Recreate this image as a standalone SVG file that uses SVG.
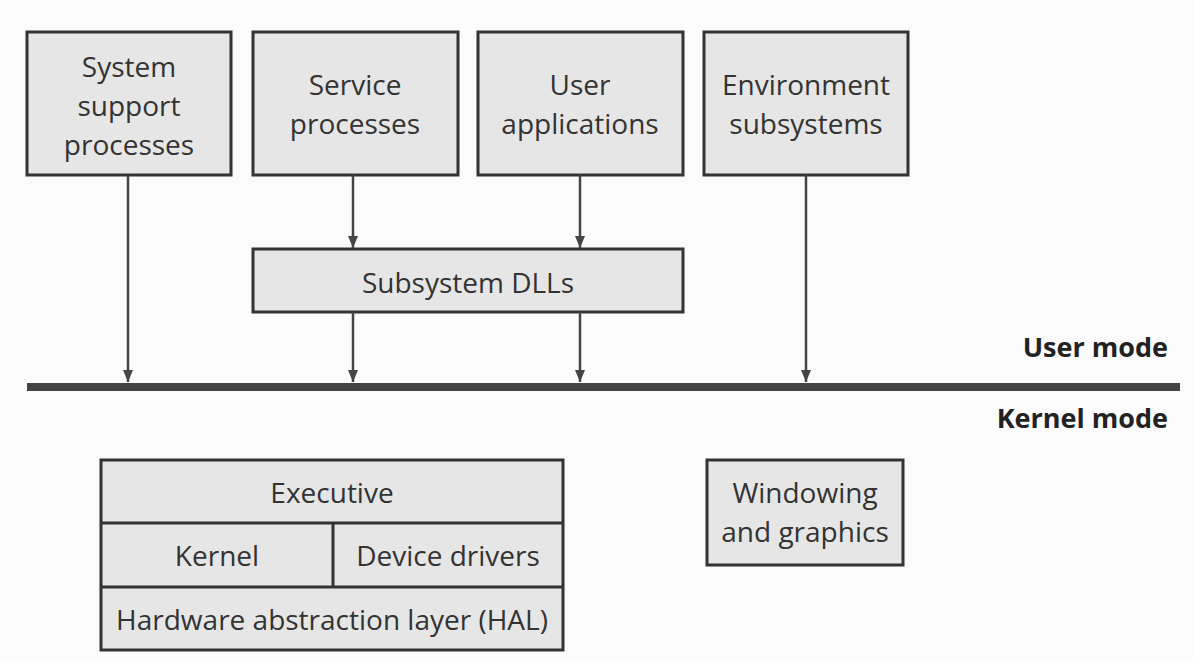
<svg xmlns="http://www.w3.org/2000/svg" width="1193" height="661" viewBox="0 0 1193 661">
<style>
.box{fill:#e6e6e6;stroke:#333;stroke-width:3}
.t{font-family:"Open Sans","Noto Sans","Liberation Sans",sans-serif;font-size:28px;fill:#333;text-anchor:middle}
.b{font-family:"Open Sans","Noto Sans","Liberation Sans",sans-serif;font-size:27px;font-weight:bold;fill:#222;text-anchor:end}
.c{stroke:#444;stroke-width:2.5;fill:none}
.d{stroke:#333;stroke-width:3}
</style>
<defs>
<marker id="ah" viewBox="0 0 12 10" refX="12" refY="5" markerWidth="12" markerHeight="10" markerUnits="userSpaceOnUse" orient="auto">
<path d="M0,0 L12,5 L0,10 Z" fill="#444"/>
</marker>
</defs>
<rect width="1193" height="661" fill="#fbfbfb"/>
<g id="sys">
<rect class="box" x="27" y="32" width="204" height="143"/>
<text class="t" x="129" y="77">System</text>
<text class="t" x="129" y="116">support</text>
<text class="t" x="129" y="155">processes</text>
</g>
<g id="svc">
<rect class="box" x="253" y="32" width="205" height="143"/>
<text class="t" x="355" y="95">Service</text>
<text class="t" x="355" y="134">processes</text>
</g>
<g id="usr">
<rect class="box" x="478" y="32" width="205" height="143"/>
<text class="t" x="580" y="95">User</text>
<text class="t" x="580" y="134">applications</text>
</g>
<g id="env">
<rect class="box" x="704" y="32" width="204" height="143"/>
<text class="t" x="806" y="95">Environment</text>
<text class="t" x="806" y="134">subsystems</text>
</g>
<g id="dll">
<rect class="box" x="253" y="249" width="430" height="63"/>
<text class="t" x="468" y="293">Subsystem DLLs</text>
</g>
<g id="modes">
<rect x="27" y="383" width="1153" height="8" fill="#444"/>
<text class="b" x="1168" y="357">User mode</text>
<text class="b" x="1168" y="428">Kernel mode</text>
</g>
<g id="exec">
<rect class="box" x="101" y="460" width="462" height="190"/>
<line class="d" x1="101" y1="523" x2="563" y2="523"/>
<line class="d" x1="101" y1="587" x2="563" y2="587"/>
<line class="d" x1="333" y1="523" x2="333" y2="587"/>
<text class="t" x="332" y="503">Executive</text>
<text class="t" x="217" y="566">Kernel</text>
<text class="t" x="448" y="566">Device drivers</text>
<text class="t" x="332" y="630">Hardware abstraction layer (HAL)</text>
</g>
<g id="win">
<rect class="box" x="707" y="460" width="196" height="105"/>
<text class="t" x="805" y="503">Windowing</text>
<text class="t" x="805" y="542">and graphics</text>
</g>
<g id="connectors">
<line class="c" x1="128" y1="175" x2="128" y2="382" marker-end="url(#ah)"/>
<line class="c" x1="353" y1="175" x2="353" y2="248" marker-end="url(#ah)"/>
<line class="c" x1="580" y1="175" x2="580" y2="248" marker-end="url(#ah)"/>
<line class="c" x1="353" y1="312" x2="353" y2="382" marker-end="url(#ah)"/>
<line class="c" x1="580" y1="312" x2="580" y2="382" marker-end="url(#ah)"/>
<line class="c" x1="806" y1="175" x2="806" y2="382" marker-end="url(#ah)"/>
</g>
</svg>
